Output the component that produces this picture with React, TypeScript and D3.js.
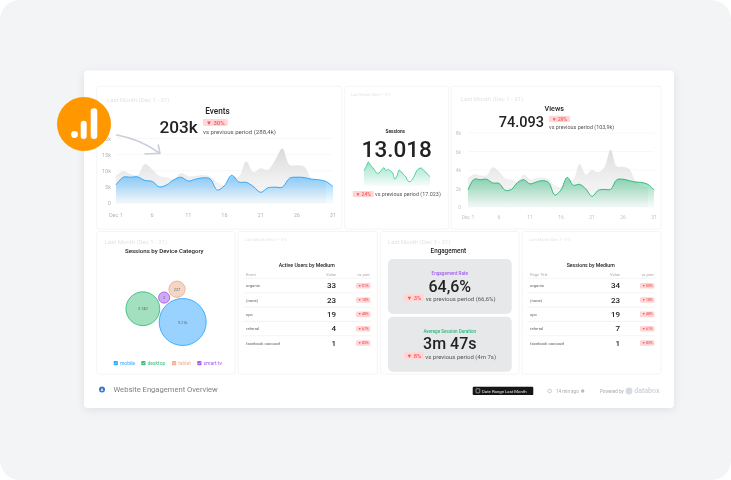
import React from "react";
import * as d3 from "d3";

const days = d3.range(1, 32);
const dayTicks = [1, 6, 11, 16, 21, 26, 31];
const eventsCurrent = [5.6, 8.0, 8.0, 8.1, 7.0, 6.7, 5.0, 5.6, 7.2, 8.0, 6.8, 7.4, 7.8, 7.5, 4.0, 5.4, 8.6, 6.5, 6.4, 5.1, 3.3, 4.7, 4.9, 4.9, 7.7, 8.0, 7.9, 7.4, 7.2, 6.7, 5.1];
const eventsPrevious = [8.4, 9.9, 9.0, 8.7, 12.1, 10.5, 8.4, 7.9, 7.4, 9.3, 8.3, 8.4, 8.7, 8.2, 6.4, 5.6, 7.7, 8.2, 12.9, 9.6, 10.8, 10.3, 13.3, 16.9, 11.8, 11.7, 11.3, 7.7, 6.7, 6.7];
const eventsTicks = [0, 5, 10, 15, 20];
const viewsCurrent = [1.85, 3.0, 2.95, 3.0, 2.6, 2.55, 1.8, 1.9, 2.65, 2.95, 2.5, 2.7, 2.85, 2.65, 1.3, 1.85, 3.2, 2.35, 2.45, 1.95, 1.15, 1.8, 1.9, 1.9, 2.95, 3.0, 2.85, 2.7, 2.65, 2.45, 1.85];
const viewsPrevious = [3.1, 3.55, 3.4, 3.4, 4.3, 3.85, 3.1, 2.95, 2.75, 3.5, 3.0, 3.1, 3.2, 3.0, 2.35, 2.15, 2.9, 3.0, 4.65, 3.5, 4.0, 3.75, 4.3, 6.2, 4.4, 4.35, 4.1, 2.85, 2.3, 2.15];
const viewsTicks = [0, 2, 4, 6, 8];
const sessionsSpark = [460, 580, 720, 620, 550, 460, 380, 400, 480, 550, 460, 500, 450, 400, 200, 300, 480, 420, 340, 270, 150, 130, 200, 320, 460, 520, 540, 480, 420, 340, 280];
const deviceNames = ["mobile", "desktop", "smart tv", "tablet"];
const deviceValues = [9216, 3740, 2, 227];
const deviceLabels = ["9.216", "3.740", "2", "227"];
const deviceColors = ["#2fa8ff", "#35c07f", "#a45cf0", "#eeb18f"];
const deviceFills = ["#9ad2ff", "#a3e0c0", "#cfa9f6", "#f3d6c4"];
const legendOrder = [0, 1, 3, 2];
const mediums = ["organic", "(none)", "cpc", "referral", "facebook carousel"];
const usersValues = [33, 23, 19, 4, 1];
const usersChanges = ["51%", "18%", "48%", "67%", "83%"];
const sessionsValues = [34, 23, 19, 7, 1];
const sessionsChanges = ["55%", "18%", "48%", "61%", "83%"];

const FONT = "Roboto, sans-serif";
const LM = "Last Month (Dec 1 - 31)";
const CURVE = d3.curveCatmullRom.alpha(0.5);

function T({ x, y, s, c = "#222", w = 400, a = "start", children }: any) {
  return (
    <text x={x} y={y} fontSize={s} fill={c} fontWeight={w} textAnchor={a} dominantBaseline="central">
      {children}
    </text>
  );
}

function Badge({ x, y, w, h, s, label }: any) {
  return (
    <g>
      <rect x={x} y={y} width={w} height={h} rx={1} fill="#ffd5d6" />
      <text x={x + w / 2} y={y + h / 2} fontSize={s} fill="#f2585c" fontWeight={500} textAnchor="middle" dominantBaseline="central">
        ▼ {label}
      </text>
    </g>
  );
}

function Panel({ x, y, x2, y2 }: any) {
  return <rect x={x} y={y} width={x2 - x} height={y2 - y} rx={2} fill="#fff" stroke="#f1f1f3" strokeWidth={0.8} />;
}

function AreaChart({ id, cur, prev, ticks, x0, x1, y0, yTop, max, color, fontSize, labelX, labelY, tickColor }: any) {
  const x = d3.scaleLinear().domain([1, 31]).range([x0, x1]);
  const y = d3.scaleLinear().domain([0, max]).range([y0, yTop]);
  const area = d3.area<number>().x((_, i) => x(days[i])).y0(y0).y1((d) => y(d)).curve(CURVE);
  const line = d3.line<number>().x((_, i) => x(days[i])).y((d) => y(d)).curve(CURVE);
  return (
    <g>
      <defs>
        <linearGradient id={id + "g"} gradientUnits="userSpaceOnUse" x1={0} x2={0} y1={yTop + (y0 - yTop) * 0.1} y2={y0}>
          <stop offset="0" stopColor="#d4d4d4" stopOpacity={0.95} />
          <stop offset="1" stopColor="#e8e8e8" stopOpacity={0.2} />
        </linearGradient>
        <linearGradient id={id + "c"} gradientUnits="userSpaceOnUse" x1={0} x2={0} y1={y(d3.max(cur) as number)} y2={y0}>
          <stop offset="0" stopColor={color} stopOpacity={0.55} />
          <stop offset="1" stopColor={color} stopOpacity={0.03} />
        </linearGradient>
      </defs>
      {ticks.map((t: number) => (
        <g key={t}>
          <line x1={x0} x2={x1} y1={y(t)} y2={y(t)} stroke="#f5f5f6" strokeWidth={0.7} />
          <T x={labelX} y={y(t)} s={fontSize} c={tickColor} a="end">{t === 0 ? "0" : `${t}k`}</T>
        </g>
      ))}
      {dayTicks.map((d) => (
        <T key={d} x={x(d)} y={labelY} s={fontSize} c={tickColor} a="middle">{d === 1 ? "Dec 1" : d}</T>
      ))}
      <path d={area(prev) as string} fill={`url(#${id}g)`} />
      <path d={area(cur) as string} fill={`url(#${id}c)`} />
      <path d={line(cur) as string} fill="none" stroke={color} strokeWidth={1} />
    </g>
  );
}

function Sparkline() {
  const x = d3.scaleLinear().domain([1, 31]).range([364, 430]);
  const y = d3.scaleLinear().domain([0, 800]).range([186, 159.3]);
  const area = d3.area<number>().x((_, i) => x(days[i])).y0(186).y1((d) => y(d)).curve(CURVE);
  const line = d3.line<number>().x((_, i) => x(days[i])).y((d) => y(d)).curve(CURVE);
  return (
    <g>
      <defs>
        <linearGradient id="spark" gradientUnits="userSpaceOnUse" x1={0} x2={0} y1={160} y2={186}>
          <stop offset="0" stopColor="#3ec995" stopOpacity={0.55} />
          <stop offset="1" stopColor="#3ec995" stopOpacity={0.04} />
        </linearGradient>
      </defs>
      <path d={area(sessionsSpark) as string} fill="url(#spark)" />
      <path d={line(sessionsSpark) as string} fill="none" stroke="#3ec995" strokeWidth={0.9} />
    </g>
  );
}

// Centre of a circle of radius r touching circles a and b, on the side given by sign.
function tangent(a: any, b: any, r: number, sign: number) {
  const d = Math.hypot(b.x - a.x, b.y - a.y);
  const ra = a.r + r, rb = b.r + r;
  const along = (ra * ra - rb * rb + d * d) / (2 * d);
  const h = Math.sqrt(Math.max(0, ra * ra - along * along));
  const ux = (b.x - a.x) / d, uy = (b.y - a.y) / d;
  return { x: a.x + ux * along - sign * uy * h, y: a.y + uy * along + sign * ux * h, r };
}

function Bubbles() {
  const gap = 0.8;
  const r = d3.scaleSqrt().domain([0, 9216]).range([5.3, 23.5]);
  const radii = deviceValues.map((v) => r(v) + gap);
  const angle = Math.atan2(-13.3, -40);
  const blue = { x: 0, y: 0, r: radii[0] };
  const dist = radii[0] + radii[1];
  const green = { x: dist * Math.cos(angle), y: dist * Math.sin(angle), r: radii[1] };
  const purple = tangent(blue, green, radii[2], 1);
  const peach = tangent(blue, purple, radii[3], 1);
  const final = [blue, green, purple, peach];
  return (
    <g>
      {final.map((n, i) => (
        <g key={i}>
          <circle cx={182.7 + n.x} cy={322 + n.y} r={n.r - gap} fill={deviceFills[i]} stroke={deviceColors[i]} strokeWidth={0.9} />
          <T x={182.7 + n.x} y={322 + n.y} s={3.8} c="#666" a="middle">{deviceLabels[i]}</T>
        </g>
      ))}
    </g>
  );
}

const legendBoxX = [113.7, 141.3, 172, 197.3];

function Legend() {
  return (
    <g>
      {legendOrder.map((d, i) => (
        <g key={d}>
          <rect x={legendBoxX[i]} y={361} width={4.2} height={4.2} rx={0.7} fill={deviceColors[d]} />
          <path d={`M${legendBoxX[i] + 1} 363.2 l0.9 0.9 l1.4 -1.7`} fill="none" stroke="#fff" strokeWidth={0.5} />
          <T x={legendBoxX[i] + 6.2} y={363.2} s={5} c={deviceColors[d]}>{deviceNames[d]}</T>
        </g>
      ))}
    </g>
  );
}

function Table({ dx, title, first, values, changes }: any) {
  const y = d3.scalePoint<number>().domain(d3.range(5)).range([285.7, 343]);
  return (
    <g transform={`translate(${dx},0)`}>
      <T x={306.7} y={265.3} s={5.2} w={500} a="middle">{title}</T>
      <T x={246} y={274} s={4} c="#aaa">{first}</T>
      <T x={336} y={274} s={4} c="#aaa" a="end">Value</T>
      <T x={370} y={274} s={4} c="#aaa" a="end">vs prev</T>
      <line x1={243.5} x2={371} y1={278.3} y2={278.3} stroke="#ececee" strokeWidth={0.6} />
      {values.map((v: number, i: number) => (
        <g key={i}>
          <T x={246} y={y(i)} s={4.2} c="#666">{mediums[i]}</T>
          <T x={336} y={y(i)} s={8} w={500} a="end">{v}</T>
          <Badge x={356} y={(y(i) as number) - 2.8} w={14.4} h={5.6} s={3.4} label={changes[i]} />
          {i < 4 && <line x1={243.5} x2={371} y1={(y(i) as number) + 7.1} y2={(y(i) as number) + 7.1} stroke="#ececee" strokeWidth={0.6} />}
        </g>
      ))}
    </g>
  );
}

export default function App() {
  return (
    <svg
      width={731}
      height={480}
      viewBox="0 0 731 480"
      style={{ position: "fixed", left: 0, top: 0, fontFamily: FONT, background: "#fff" }}
    >
      <defs>
        <filter id="soft" x="-2%" y="-2%" width="104%" height="104%">
          <feGaussianBlur stdDeviation="0.33" />
        </filter>
        <filter id="cardShadow" x="-5%" y="-5%" width="110%" height="112%">
          <feDropShadow dx={0} dy={2} stdDeviation={4} floodColor="#c8ccd4" floodOpacity={0.5} />
        </filter>
      </defs>
      <rect x={0} y={0} width={731} height={480} rx={20} fill="#f3f4f6" />
      <rect x={84} y={70.5} width={590} height={337.5} rx={4} fill="#fff" filter="url(#cardShadow)" />

      <g filter="url(#soft)">
        <Panel x={96.7} y={86.3} x2={342} y2={229} />
        <Panel x={344.7} y={86.3} x2={448.7} y2={229} />
        <Panel x={451} y={86.3} x2={661} y2={229} />
        <Panel x={96.7} y={231.5} x2={235} y2={374} />
        <Panel x={238} y={231.5} x2={377.5} y2={374} />
        <Panel x={380.7} y={231.5} x2={519} y2={374} />
        <Panel x={522} y={231.5} x2={661} y2={374} />

        {/* Events */}
        <T x={107} y={99.5} s={6} c="#e3e3e5">{LM}</T>
        <T x={217.5} y={110.6} s={8.2} w={500} a="middle">Events</T>
        <T x={159.5} y={126.5} s={17.2} w={500}>203k</T>
        <Badge x={203} y={119} w={24.7} h={7} s={6} label="30%" />
        <T x={203} y={131.5} s={6.1} c="#555">vs previous period (288,4k)</T>
        <AreaChart id="ev" cur={eventsCurrent} prev={eventsPrevious} ticks={eventsTicks} x0={116} x1={333} y0={203} yTop={138.5} max={20} color="#2fa8ff" fontSize={5.6} labelX={111} labelY={215.3} tickColor="#b5b5b8" />

        {/* Sessions */}
        <T x={351} y={94} s={3.8} c="#e3e3e5">{LM}</T>
        <T x={395.3} y={131} s={4.8} w={600} a="middle">Sessions</T>
        <T x={396.7} y={148.5} s={22.5} w={500} a="middle">13.018</T>
        <Sparkline />
        <Badge x={352.7} y={191} w={21} h={6} s={5} label="24%" />
        <T x={375} y={194} s={5.45} c="#555">vs previous period (17.023)</T>

        {/* Views */}
        <T x={460.7} y={98} s={6} c="#e3e3e5">{LM}</T>
        <T x={554.3} y={108.3} s={7.2} w={500} a="middle">Views</T>
        <T x={498.7} y={122.3} s={14.5} w={500}>74.093</T>
        <Badge x={549} y={115.7} w={21} h={6.3} s={5} label="29%" />
        <T x={549} y={126.7} s={5.45} c="#555">vs previous period (103,9k)</T>
        <AreaChart id="vw" cur={viewsCurrent} prev={viewsPrevious} ticks={viewsTicks} x0={468} x1={654} y0={207} yTop={133} max={8} color="#2eb87a" fontSize={5} labelX={461} labelY={217.3} tickColor="#c4c4c7" />

        {/* Device */}
        <T x={104.7} y={241.3} s={6} c="#e3e3e5">{LM}</T>
        <T x={164.3} y={250.7} s={6.1} w={500} a="middle">Sessions by Device Category</T>
        <Bubbles />
        <Legend />

        {/* Tables */}
        <T x={245} y={239.7} s={4} c="#e3e3e5">{LM}</T>
        <Table dx={0} title="Active Users by Medium" first="Event" values={usersValues} changes={usersChanges} />
        <T x={529} y={239.7} s={4} c="#e3e3e5">{LM}</T>
        <Table dx={284} title="Sessions by Medium" first="Page Title" values={sessionsValues} changes={sessionsChanges} />

        {/* Engagement */}
        <T x={388} y={241.3} s={6} c="#e3e3e5">{LM}</T>
        <T x={448.3} y={250.7} s={6.3} w={500} a="middle">Engagement</T>
        <rect x={388} y={259} width={123.7} height={55} rx={5} fill="#e7e8ea" />
        <rect x={388} y={316.7} width={123.7} height={55} rx={5} fill="#e7e8ea" />
        <T x={449.8} y={273.7} s={4.6} c="#a25cf0" w={500} a="middle">Engagement Rate</T>
        <T x={449.8} y={286} s={16} w={500} a="middle">64,6%</T>
        <Badge x={404} y={294.3} w={20} h={7} s={5.8} label="3%" />
        <T x={425.7} y={298} s={6} c="#555">vs previous period (66,6%)</T>
        <T x={449.8} y={331.7} s={4.6} c="#27b97f" w={500} a="middle">Average Session Duration</T>
        <T x={449.8} y={343.7} s={16} w={500} a="middle">3m 47s</T>
        <Badge x={404} y={352.3} w={20} h={7} s={5.8} label="8%" />
        <T x={425.3} y={356} s={6} c="#555">vs previous period (4m 7s)</T>

        {/* Footer */}
        <circle cx={102} cy={389.6} r={3} fill="#3b74c9" />
        <path d="M102 387.6 L103.5 391 L100.5 391 Z" fill="#cfe0f5" />
        <T x={113.5} y={389.3} s={7.6} c="#808080">Website Engagement Overview</T>
        <rect x={472.7} y={386.7} width={60.6} height={8.4} rx={1.2} fill="#151515" />
        <rect x={476} y={388.8} width={3.8} height={4} rx={0.5} fill="none" stroke="#ddd" strokeWidth={0.6} />
        <T x={482} y={391} s={4.3} c="#e8e8e8">Date Range  Last Month</T>
        <circle cx={549.7} cy={391} r={1.8} fill="none" stroke="#aaa" strokeWidth={0.6} />
        <T x={556} y={391} s={4.6} c="#aaa">14 min ago</T>
        <circle cx={582.7} cy={391} r={1.7} fill="#bbb" />
        <T x={600} y={391} s={4.6} c="#aaa">Powered by</T>
        <circle cx={629} cy={391} r={3.4} fill="#d6dbe2" />
        <T x={634.3} y={391} s={7} c="#ccd0d6" w={500}>databox</T>
      </g>

      {/* Arrow and logo */}
      <path d="M116.7 135 Q140 139 160 153.3 M158.3 145 L160 153.3 L145 154" fill="none" stroke="#c9ced9" strokeWidth={1.6} strokeLinecap="round" strokeLinejoin="round" />
      <circle cx={84} cy={124} r={27} fill="#ff9800" />
      <circle cx={74.5} cy={134.5} r={3.4} fill="#fff" />
      <rect x={80.7} y={120.7} width={6} height={18.3} rx={3} fill="#fff" />
      <rect x={90.7} y={108.3} width={6.6} height={30.7} rx={3.3} fill="#fff" />
    </svg>
  );
}
